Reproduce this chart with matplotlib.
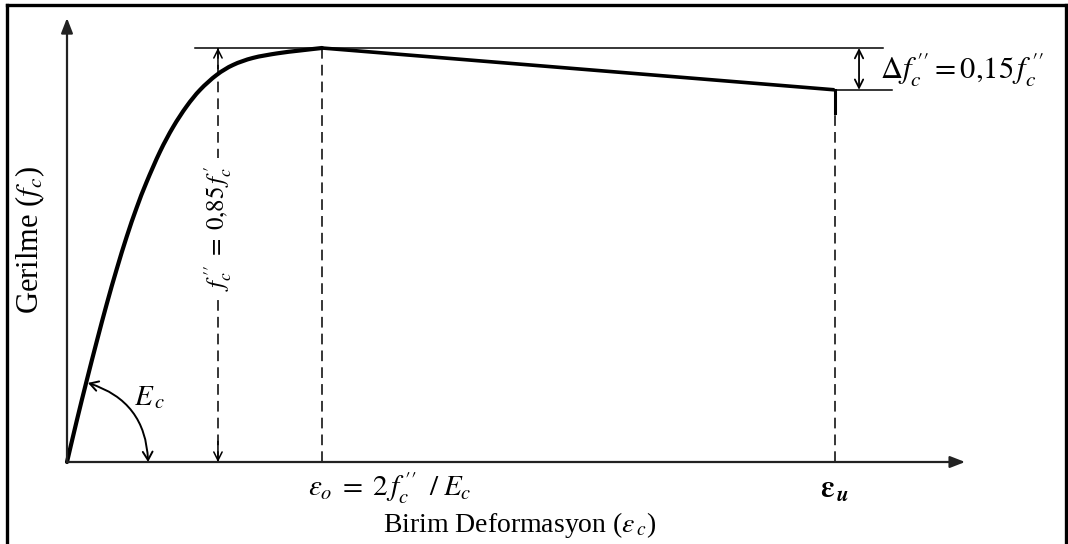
import matplotlib
matplotlib.use("Agg")
import numpy as np
import matplotlib.pyplot as plt
from matplotlib.patches import FancyArrowPatch, PathPatch
from matplotlib.path import Path
from matplotlib.lines import Line2D

plt.rcParams['font.family'] = ['Liberation Serif', 'DejaVu Serif']
plt.rcParams['mathtext.fontset'] = 'stix'

# ---- data (normalised: strain / eps_o, stress / f_c'') ----
strain = [0.0, 0.038, 0.077, 0.117, 0.156, 0.195, 0.234, 0.273, 0.312,
          0.365, 0.416, 0.469, 0.522, 0.587, 0.651, 0.729, 0.824, 0.914, 1.0]
stress = [0.0, 0.099, 0.196, 0.292, 0.382, 0.466, 0.544, 0.614, 0.676,
          0.750, 0.809, 0.859, 0.899, 0.935, 0.959, 0.976, 0.987, 0.994, 1.0]
eps_o = 1.0
eps_u = 3.01
f_peak = 1.0
f_end = 0.899

fig = plt.figure(figsize=(10.68, 5.44), dpi=100)
ax = fig.add_axes([0, 0, 1, 1])
ax.set_xlim(-67/255, 1001/255)
ax.set_ylim(-82/414, 462/414)
ax.axis('off')

# frame around the figure
for xs, ys in [([7/1068, 7/1068], [0, 1-5/544]), ([7/1068, 1066/1068], [1-5/544, 1-5/544]),
               ([1066/1068, 1066/1068], [1-5/544, 0])]:
    fig.add_artist(Line2D(xs, ys, color='black', lw=2.4, transform=fig.transFigure))

# axes with arrows
axc = '#222222'
ax.annotate('', xy=(0, 1.0725), xytext=(0, 0),
            arrowprops=dict(arrowstyle='-|>,head_length=0.9,head_width=0.35', color=axc, lw=1.6, shrinkA=0, shrinkB=0))
ax.annotate('', xy=(3.522, 0), xytext=(0, 0),
            arrowprops=dict(arrowstyle='-|>,head_length=0.9,head_width=0.35', color=axc, lw=1.6, shrinkA=0, shrinkB=0))

# stress-strain curve: smooth path through the read points (Catmull-Rom -> cubic Bezier)
pts = np.column_stack([strain, stress])
verts = [tuple(pts[0])]
codes = [Path.MOVETO]
n = len(pts)
for i in range(n - 1):
    p0 = pts[i - 1] if i > 0 else pts[i]
    p1, p2 = pts[i], pts[i + 1]
    p3 = pts[i + 2] if i + 2 < n else pts[i + 1]
    c1 = p1 + (p2 - p0) / 6.0
    c2 = p2 - (p3 - p1) / 6.0
    verts += [tuple(c1), tuple(c2), tuple(p2)]
    codes += [Path.CURVE4] * 3
ax.add_patch(PathPatch(Path(verts, codes), facecolor='none', edgecolor='black', lw=3.0,
                       capstyle='round', joinstyle='round'))
ax.plot([eps_o, eps_u], [f_peak, f_end], color='black', lw=2.6, solid_capstyle='butt')

# reference lines
ax.plot([0.502, 3.2], [f_peak, f_peak], color='black', lw=1.1)
ax.plot([2.99, 3.235], [f_end, f_end], color='black', lw=1.1)
dash = (0, (7, 4))
ax.plot([eps_o, eps_o], [0, f_peak], color='black', lw=1.1, linestyle=dash)
ax.plot([eps_u, eps_u], [0, 0.843], color='black', lw=1.1, linestyle=dash)
ax.plot([eps_u, eps_u], [0.843, f_end], color='black', lw=2.2)

# f_c'' dimension
xf = 0.592
ax.plot([xf, xf], [0, f_peak], color='black', lw=1.1, linestyle=dash)
for y0, y1 in [(0.05, 0.0), (0.95, 1.0)]:
    ax.annotate('', xy=(xf, y1), xytext=(xf, y0),
                arrowprops=dict(arrowstyle='->,head_length=0.6,head_width=0.3', color='black', lw=1.1,
                                shrinkA=0, shrinkB=0))
ax.text(xf, 0.565, r"$f_c^{\,\prime\prime}\;=\;0{,}85\,f_c^{\,\prime}$", rotation=90, ha='center', va='center',
        fontsize=18, bbox=dict(facecolor='white', edgecolor='none', pad=5))

# delta f dimension
ax.annotate('', xy=(3.106, f_end), xytext=(3.106, f_peak),
            arrowprops=dict(arrowstyle='<->,head_length=0.6,head_width=0.3', color='black', lw=1.3,
                            shrinkA=0, shrinkB=0))
ax.text(3.19, 0.947, r"$\Delta f_c^{\,\prime\prime} = 0{,}15\,f_c^{\,\prime\prime}$", ha='left', va='center',
        fontsize=22)

# E_c arc
arc = FancyArrowPatch((0.082, 0.191), (0.318, 0.0), connectionstyle='arc3,rad=-0.35',
                      arrowstyle='<->,head_length=6,head_width=3.5', color='black', lw=1.4,
                      shrinkA=0, shrinkB=0)
ax.add_patch(arc)
ax.text(0.325, 0.155, r"$E_{\,c}$", ha='center', va='center', fontsize=21)

# axis labels
ax.text(1.267, -0.063, r"$\varepsilon_o\;=\;2\,f_c^{\,\prime\prime}\;\;/\;E_c$", ha='center', va='center',
        fontsize=21)
ax.text(eps_u, -0.068, r"$\boldsymbol{\varepsilon}_{\,\boldsymbol{u}}$", ha='center', va='center', fontsize=22)
ax.text(1.776, -0.152, r"Birim Deformasyon ($\varepsilon_{\,c}$)", ha='center', va='center', fontsize=20)
ax.text(-0.145, 0.535, r"Gerilme ($f_c$)", rotation=90, ha='center', va='center', fontsize=22)

fig.savefig('out.png', dpi=100)
